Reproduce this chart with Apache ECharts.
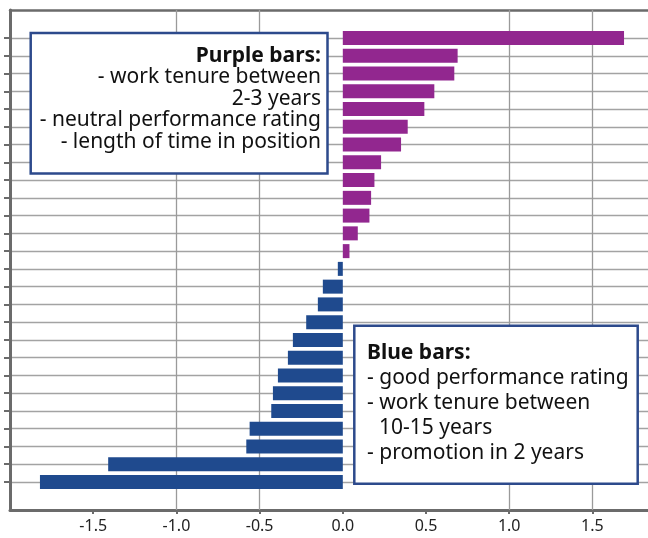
<!DOCTYPE html>
<html>
<head>
<meta charset="utf-8">
<script src="https://cdn.jsdelivr.net/npm/echarts@6/dist/echarts.min.js"></script>
<style>
html, body { margin: 0; padding: 0; background: #fff; }
#chart { width: 648px; height: 538px; }
</style>
</head>
<body>
<div id="chart"></div>
<script>
// features ordered top to bottom (names not shown in the picture)
var categories = ['f01', 'f02', 'f03', 'f04', 'f05', 'f06', 'f07', 'f08', 'f09', 'f10', 'f11', 'f12', 'f13',
	'f14', 'f15', 'f16', 'f17', 'f18', 'f19', 'f20', 'f21', 'f22', 'f23', 'f24', 'f25', 'f26'];
var purpleValues = [1.69, 0.69, 0.67, 0.55, 0.49, 0.39, 0.35, 0.23, 0.19, 0.17, 0.16, 0.09, 0.04];
var blueValues = [-0.03, -0.12, -0.15, -0.22, -0.30, -0.33, -0.39, -0.42, -0.43, -0.56, -0.58, -1.41, -1.82];
var gridValues = [-1.0, -0.5, 1.0, 1.5];
var xMin = -2, xMax = 1.834;

var purpleText = ['Purple bars:', '- work tenure between', '2-3 years', '- neutral performance rating', '- length of time in position'];
var blueText = ['Blue bars:', '- good performance rating', '- work tenure between', '10-15 years', '- promotion in 2 years'];

var purpleData = [], blueData = [];
categories.forEach(function (c, i) {
	purpleData.push(i < purpleValues.length ? purpleValues[i] : null);
	blueData.push(i >= purpleValues.length ? blueValues[i - purpleValues.length] : null);
});

var font = 'Noto Sans';
var axisGray = '#6b6b6b';

var option = {
	animation: false,
	grid: [
		{left: 10, right: 0, top: 10, bottom: 28},
		{left: 10, right: 0, top: 38, bottom: 56}
	],
	xAxis: [
		{
			gridIndex: 0, type: 'value', min: xMin, max: xMax, interval: 0.5,
			axisLine: {show: true, onZero: false, lineStyle: {color: axisGray, width: 3}},
			axisTick: {show: true, length: 4, lineStyle: {color: axisGray, width: 2}},
			axisLabel: {
				showMinLabel: false, showMaxLabel: false, margin: 8,
				fontSize: 16, fontFamily: font, color: '#222',
				formatter: function (v) { return v.toFixed(1); }
			},
			splitLine: {show: false}
		},
		{
			gridIndex: 0, type: 'value', min: xMin, max: xMax, position: 'top',
			axisLine: {show: true, onZero: false, lineStyle: {color: axisGray, width: 2.5}},
			axisTick: {show: false}, axisLabel: {show: false}, splitLine: {show: false}
		},
		{gridIndex: 1, type: 'value', min: xMin, max: xMax, show: false}
	],
	yAxis: [
		{
			gridIndex: 0, type: 'value', min: 0, max: 1, position: 'left',
			axisLine: {show: true, onZero: false, lineStyle: {color: axisGray, width: 3}},
			axisTick: {show: false}, axisLabel: {show: false}, splitLine: {show: false}
		},
		{
			gridIndex: 1, type: 'category', data: categories, inverse: true, boundaryGap: false,
			axisLine: {show: false, onZero: false},
			axisTick: {show: true, length: 6, lineStyle: {color: axisGray, width: 2}},
			axisLabel: {show: false},
			splitLine: {show: true, lineStyle: {color: '#a3a3a3', width: 1.3}}
		}
	],
	series: [
		{
			type: 'line', xAxisIndex: 0, yAxisIndex: 0, data: [],
			markLine: {
				silent: true, symbol: 'none', z: 1,
				label: {show: false},
				lineStyle: {color: '#9a9a9a', width: 1.3, type: 'solid'},
				data: gridValues.map(function (v) { return {xAxis: v}; })
			}
		},
		{
			name: 'purple', type: 'bar', xAxisIndex: 2, yAxisIndex: 1,
			data: purpleData, barWidth: 14, barGap: '-100%', clip: false, z: 3,
			itemStyle: {color: '#92278f'}
		},
		{
			name: 'blue', type: 'bar', xAxisIndex: 2, yAxisIndex: 1,
			data: blueData, barWidth: 14, barGap: '-100%', clip: false, z: 3,
			itemStyle: {color: '#1f4a8e'}
		}
	],
	graphic: [
		{
			type: 'rect', z: 100,
			shape: {x: 30.7, y: 33, width: 296.8, height: 140.5},
			style: {fill: '#fff', stroke: '#2d4a8c', lineWidth: 2.5}
		},
		{
			type: 'text', z: 101, x: 321, y: 45,
			style: {
				text: purpleText.map(function (t, i) { return (i === 0 ? '{b|' : '{n|') + t + '}'; }).join('\n'),
				align: 'right', verticalAlign: 'top',
				rich: {
					b: {fontFamily: font, fontSize: 21, fontWeight: 'bold', lineHeight: 21.5, fill: '#111', align: 'right'},
					n: {fontFamily: font, fontSize: 21, lineHeight: 21.5, fill: '#111', align: 'right'}
				}
			}
		},
		{
			type: 'rect', z: 100,
			shape: {x: 354.3, y: 325.7, width: 283.4, height: 158},
			style: {fill: '#fff', stroke: '#2d4a8c', lineWidth: 2.5}
		},
		{
			type: 'text', z: 101, x: 367, y: 340.5,
			style: {
				text: blueText.map(function (t, i) {
					if (i === 0) return '{b|' + t + '}';
					if (t.charAt(0) !== '-') return '{ind|}{n|' + t + '}';
					return '{n|' + t + '}';
				}).join('\n'),
				align: 'left', verticalAlign: 'top',
				rich: {
					b: {fontFamily: font, fontSize: 21, fontWeight: 'bold', lineHeight: 25, fill: '#111'},
					n: {fontFamily: font, fontSize: 21, lineHeight: 25, fill: '#111'},
					ind: {width: 12, lineHeight: 25}
				}
			}
		}
	]
};

var chart = echarts.init(document.getElementById('chart'));
chart.setOption(option);
</script>
</body>
</html>
